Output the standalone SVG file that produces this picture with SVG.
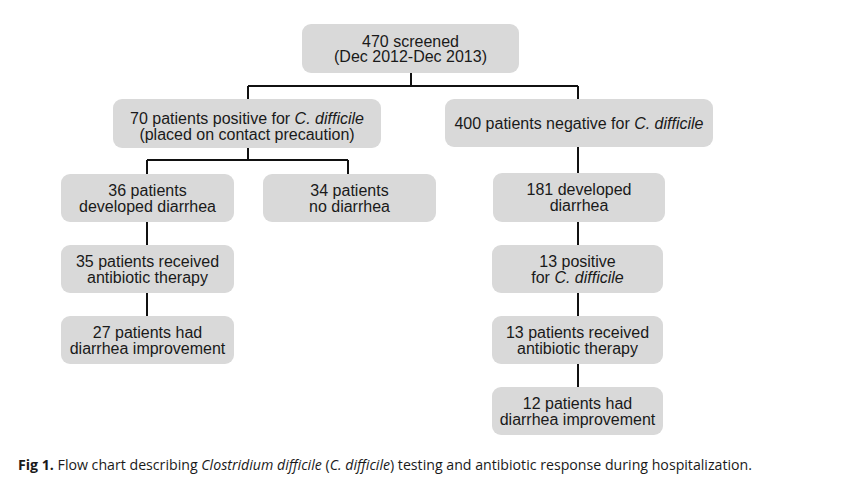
<svg xmlns="http://www.w3.org/2000/svg" width="850" height="503" viewBox="0 0 850 503">
<style>
.box{fill:#d9d9d9;}
.t{font-family:"Liberation Sans",Arial,sans-serif;font-size:16px;fill:#1a1a1a;text-anchor:middle;}
.i{font-style:italic;}
.c{stroke:#111;stroke-width:2;fill:none;}
.cap{font-family:"Open Sans","DejaVu Sans",sans-serif;font-size:14px;fill:#1a1a1a;}
</style>
<rect width="850" height="503" fill="#fff"/>
<g id="connectors">
<path class="c" d="M411 73V86M248 86H578M248 86V99M578 86V99"/>
<path class="c" d="M248 148V160M147 160H348M147 160V174M348 160V174"/>
<path class="c" d="M147 222V245M147 293V316"/>
<path class="c" d="M578 147V173M578 222V245M578 293V316M578 364V387"/>
</g>
<g id="n-screened">
<rect class="box" x="302" y="24" width="217" height="49" rx="9"/>
<text class="t" x="410.5" y="46.5">470 screened<tspan x="410.5" dy="15.5">(Dec 2012-Dec 2013)</tspan></text>
</g>
<g id="n-positive">
<rect class="box" x="113" y="99" width="268" height="49" rx="9"/>
<text class="t" x="247" y="123.5">70 patients positive for <tspan class="i">C. difficile</tspan><tspan x="247" dy="16">(placed on contact precaution)</tspan></text>
</g>
<g id="n-negative">
<rect class="box" x="445" y="99" width="268" height="48" rx="9"/>
<text class="t" x="579" y="128.5">400 patients negative for <tspan class="i">C. difficile</tspan></text>
</g>
<g id="n-36">
<rect class="box" x="61" y="174" width="173" height="48" rx="9"/>
<text class="t" x="147.5" y="195.5">36 patients<tspan x="147.5" dy="16">developed diarrhea</tspan></text>
</g>
<g id="n-34">
<rect class="box" x="263" y="174" width="173" height="48" rx="9"/>
<text class="t" x="349.5" y="195.5">34 patients<tspan x="349.5" dy="16">no diarrhea</tspan></text>
</g>
<g id="n-181">
<rect class="box" x="493" y="173" width="172" height="49" rx="9"/>
<text class="t" x="579" y="195">181 developed<tspan x="579" dy="16">diarrhea</tspan></text>
</g>
<g id="n-35">
<rect class="box" x="61" y="245" width="173" height="48" rx="9"/>
<text class="t" x="147.5" y="266.5">35 patients received<tspan x="147.5" dy="16">antibiotic therapy</tspan></text>
</g>
<g id="n-13pos">
<rect class="box" x="492" y="245" width="171" height="48" rx="9"/>
<text class="t" x="577.5" y="266.5">13 positive<tspan x="577.5" dy="16">for <tspan class="i">C. difficile</tspan></tspan></text>
</g>
<g id="n-27">
<rect class="box" x="61" y="316" width="173" height="48" rx="9"/>
<text class="t" x="147.5" y="337.5">27 patients had<tspan x="147.5" dy="16">diarrhea improvement</tspan></text>
</g>
<g id="n-13rec">
<rect class="box" x="492" y="316" width="171" height="48" rx="9"/>
<text class="t" x="577.5" y="337.5">13 patients received<tspan x="577.5" dy="16">antibiotic therapy</tspan></text>
</g>
<g id="n-12">
<rect class="box" x="492" y="387" width="171" height="48" rx="9"/>
<text class="t" x="577.5" y="408.5">12 patients had<tspan x="577.5" dy="16">diarrhea improvement</tspan></text>
</g>
<text class="cap" x="18" y="470" textLength="734" lengthAdjust="spacingAndGlyphs"><tspan font-weight="bold">Fig 1.</tspan>  Flow chart describing <tspan font-style="italic">Clostridium difficile</tspan> (<tspan font-style="italic">C. difficile</tspan>) testing and antibiotic response during hospitalization.</text>
</svg>
